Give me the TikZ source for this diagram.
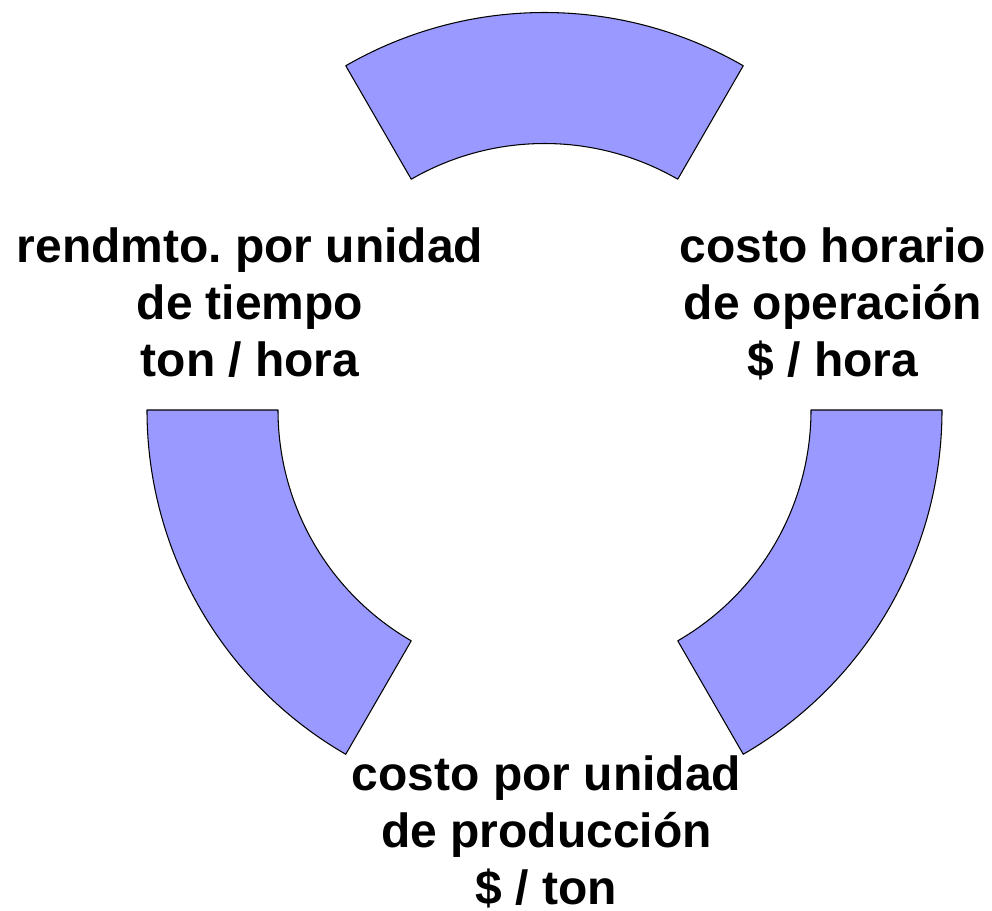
\documentclass[tikz,border=0pt]{standalone}
\usepackage{fontspec}
\setmainfont{Liberation Sans}
\definecolor{periwinkle}{HTML}{9999FF}
\frenchspacing
\begin{document}
\begin{tikzpicture}[line width = 0.6pt,
        sector/.style = {fill = periwinkle, draw = black, line join = round},
        label/.style = {align = center, anchor = base, inner sep = 0pt,
            font = \fontsize{27.3}{32.4}\selectfont\bfseries}]
                \useasboundingbox (-10.89,-10.0) rectangle (8.95,8.2);
                \def\rin{5.33}
                \def\rout{7.95}
                \foreach \a in {60,180,300}
                    \draw [sector] (\a:\rin) -- (\a:\rout) arc (\a:\a+60:\rout)
                        -- (\a+60:\rin) arc (\a+60:\a:\rin) -- cycle;
                \node [label] (rendimiento) at (-5.89,0.68) {rendmto. por unidad\\de tiempo\\ton / hora};
                \node [label] (horario) at (5.77,0.68) {costo horario\\de operación\\\$ / hora};
                \node [label] (produccion) at (0.04,-9.88) {costo por unidad\\de producción\\\$ / ton};
            \end{tikzpicture}
\end{document}
